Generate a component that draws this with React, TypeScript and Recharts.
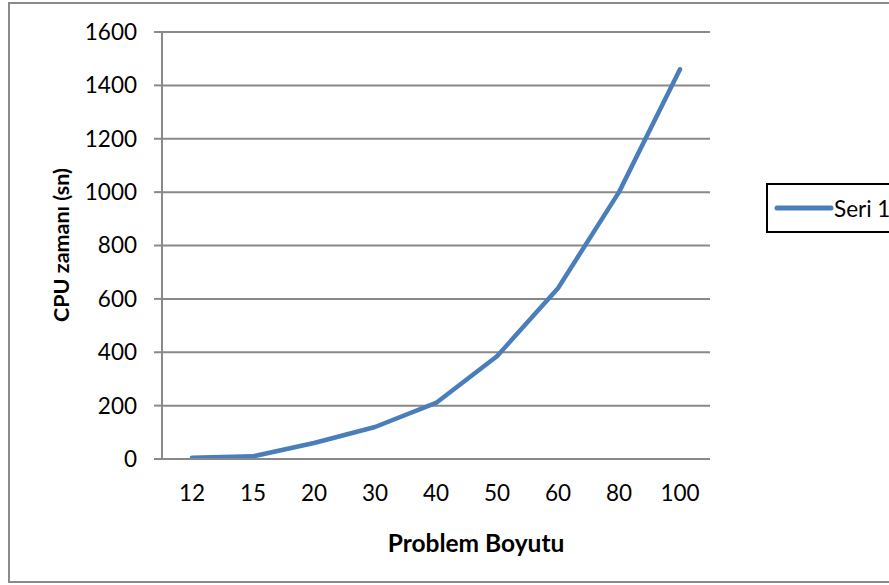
import React from "react";
import { LineChart, Line, XAxis, YAxis, CartesianGrid } from "recharts";

const categories = ["12", "15", "20", "30", "40", "50", "60", "80", "100"];
const cpuTimes = [5, 10, 60, 120, 210, 385, 640, 1000, 1460];
const yTicks = [0, 200, 400, 600, 800, 1000, 1200, 1400, 1600];
const seriesName = "Seri 1";

const data = categories.map((c, i) => ({ size: c, cpu: cpuTimes[i] }));

const FONT = "Lato, 'Open Sans', sans-serif";
const BLUE = "#4A7EBB";
const GRAY = "#898989";

export default function App() {
  return (
    <div style={{ position: "fixed", left: 0, top: 0, width: 889, height: 585, overflow: "hidden", background: "#fff" }}>
      <div
        style={{
          position: "absolute",
          left: 8,
          top: 2,
          width: 950,
          height: 581,
          border: "2px solid #8a8a8a",
          boxSizing: "border-box",
        }}
      />
      <div style={{ position: "absolute", left: 0, top: 0 }}>
        <LineChart
          width={950}
          height={585}
          data={data}
          margin={{ top: 32, right: 240, bottom: 0, left: 0 }}
        >
          <CartesianGrid vertical={false} stroke={GRAY} strokeWidth={2} />
          <XAxis
            dataKey="size"
            height={126}
            padding={{ left: 30, right: 30 }}
            axisLine={{ stroke: GRAY, strokeWidth: 2 }}
            tickLine={false}
            tickSize={8}
            tickMargin={18}
            interval={0}
            tick={{ fill: "#000", fontSize: 22.5, fontFamily: FONT }}
            label={() => (
              <text
                x={476}
                y={552}
                textAnchor="middle"
                fontFamily={FONT}
                fontWeight="bold"
                fontSize={24.5}
                fill="#000"
              >
                Problem Boyutu
              </text>
            )}
          />
          <YAxis
            width={162}
            domain={[0, 1600]}
            ticks={yTicks}
            interval={0}
            axisLine={{ stroke: GRAY, strokeWidth: 2 }}
            tickLine={{ stroke: GRAY, strokeWidth: 2 }}
            tickSize={8}
            tickMargin={17}
            tick={{ fill: "#000", fontSize: 22.5, fontFamily: FONT }}
            label={() => (
              <text
                x={69}
                y={245}
                transform="rotate(-90 69 245)"
                textAnchor="middle"
                fontFamily={FONT}
                fontWeight="bold"
                fontSize={21.5}
                fill="#000"
              >
                CPU zamanı (sn)
              </text>
            )}
          />
          <Line
            type="linear"
            dataKey="cpu"
            name={seriesName}
            stroke={BLUE}
            strokeWidth={4.5}
            strokeLinecap="round"
            strokeLinejoin="round"
            dot={false}
            activeDot={false}
            isAnimationActive={false}
          />
        </LineChart>
      </div>
      <div
        style={{
          position: "absolute",
          left: 766,
          top: 183,
          width: 200,
          height: 50,
          border: "2px solid #000",
          boxSizing: "border-box",
          display: "flex",
          alignItems: "center",
          background: "#fff",
        }}
      >
        <svg width={66} height={12} style={{ display: "block", flex: "none" }}>
          <line x1={9} y1={6} x2={63} y2={6} stroke={BLUE} strokeWidth={5} strokeLinecap="round" />
        </svg>
        <span style={{ fontFamily: FONT, fontSize: 22.5, color: "#000", whiteSpace: "nowrap" }}>{seriesName}</span>
      </div>
    </div>
  );
}
